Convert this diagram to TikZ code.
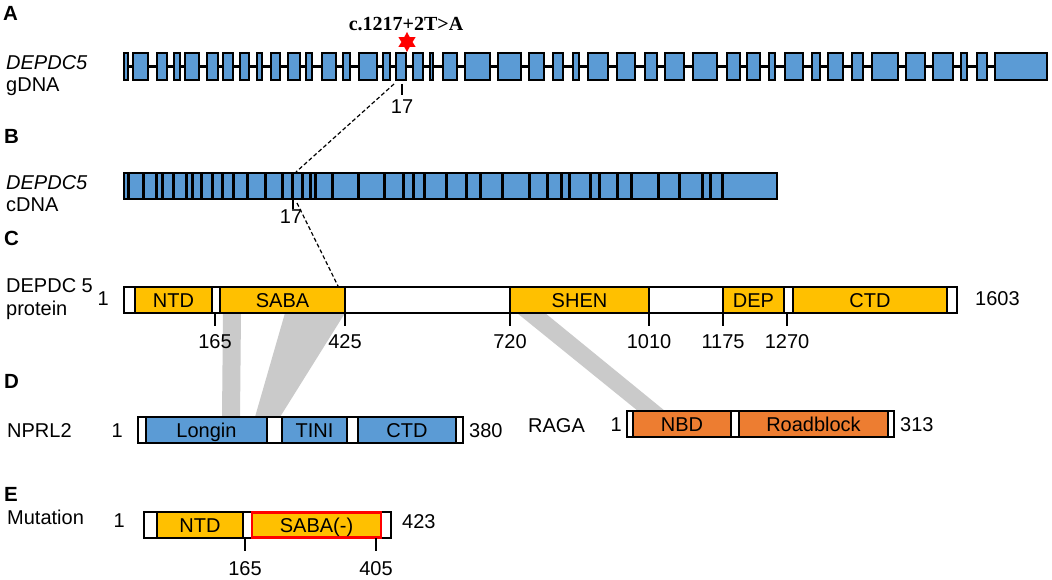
\documentclass[tikz,border=0pt]{standalone}
\usepackage{fontspec}
\setmainfont{Liberation Sans}
\newfontfamily\mutserif{Liberation Serif}
\usetikzlibrary{shapes.geometric}
\definecolor{exonblue}{HTML}{5B9BD5}
\definecolor{domyellow}{HTML}{FFC000}
\definecolor{domorange}{HTML}{ED7D31}
\definecolor{bandgray}{HTML}{CACACA}
\newcommand\domainbox[7]{\node[dombox, fill=#6, minimum width={#3-#2}, minimum height=#5, anchor=west] (#1) at (#2,#4) {#7};}
\begin{document}
\begin{tikzpicture}[x=1pt,y=-1pt,
  lbl/.style={font=\fontsize{20}{22}\selectfont, inner sep=0pt, text height=15pt, text depth=1pt},
  panel/.style={lbl, font=\fontsize{20.5}{22}\selectfont\bfseries},
  exon/.style={draw=black, line width=1.4pt, fill=exonblue, minimum height=27pt, inner sep=0pt, outer sep=0pt},
  dombox/.style={draw=black, line width=1.3pt, inner sep=0pt, outer sep=0pt, font=\fontsize{20}{22}\selectfont, text height=15pt, text depth=1pt},
  intron/.style={line width=3pt},
  cdnaline/.style={line width=3pt},
  tickline/.style={line width=2.4pt},
  link/.style={line width=1.2pt, dash pattern=on 4pt off 2.5pt},
  band/.style={fill=bandgray, draw=none}]
\useasboundingbox[fill=white] (0,0) rectangle (1052,580);

% ---------- gray bands (behind) ----------
\fill[band] (223,313) -- (241,313) -- (240,417) -- (222,417) -- cycle;
\fill[band] (285,313) -- (345,313) -- (280,417) -- (255,417) -- cycle;
\fill[band] (517,313) -- (545,313) -- (665,411) -- (638,411) -- cycle;

% ---------- panel letters ----------
\node[panel, anchor=west] (pA) at (3,14) {A};
\node[panel, anchor=west] (pB) at (4,137) {B};
\node[panel, anchor=west] (pC) at (4,238) {C};
\node[panel, anchor=west] (pD) at (4,381) {D};
\node[panel, anchor=west] (pE) at (4,494) {E};

% ---------- A: gDNA ----------
\node[lbl, anchor=west, font=\fontsize{20}{22}\selectfont\itshape] (gname) at (6,63) {DEPDC5};
\node[lbl, anchor=west] (gtype) at (6,85) {gDNA};
\draw[intron] (128,66.5) -- (995,66.5);
\foreach \a/\b [count=\i] in {124/128,133/148,157/167,174/180,185/199,207/218,223/233,240/249,257/262,271/280,288/300,306/312,322/336,343/350,359/377,383/390,396/406,413/423,430/433,443/457,465/490,498/521,529/544,553/563,573/579,588/608,617/635,645/657,665/684,693/717,727/740,747/760,769/775,785/803,812/820,828/843,852/863,872/898,906/925,933/953,961/967,977/987,995/1047}
  \node[exon, minimum width={\b-\a}, anchor=west] (ex\i) at (\a,66.5) {};
\node[star, star points=6, star point ratio=1.8, fill=red, draw=none, minimum size=20pt, inner sep=0pt] (mstar) at (407,42) {};
\node[inner sep=0pt, font=\fontsize{20}{22}\selectfont\mutserif\bfseries] (mtext) at (406,24) {c.1217+2T>A};
\coordinate (gt1) at (402,84);
\coordinate (gt2) at (402,95);
\draw[tickline] (gt1) -- (gt2);
\node[lbl] (g17) at (402,107) {17};

% ---------- B: cDNA ----------
\node[lbl, anchor=west, font=\fontsize{20}{22}\selectfont\itshape] (cname) at (6,183) {DEPDC5};
\node[lbl, anchor=west] (ctype) at (6,205) {cDNA};
\node[exon, minimum width=653pt, minimum height=26pt, anchor=west] (cdna) at (124,186) {};
\foreach \x in {128,143,156,162,173,186,192,201,212,222,233,247,265,282,292,302,310,315,332,358,384,403,413,424,446,466,480,502,529,547,561,569,590,599,617,631,658,679,702,710,722}
  \draw[cdnaline] (\x,173.5) -- (\x,198.5);
\coordinate (ct1) at (293,200);
\coordinate (ct2) at (293,209);
\draw[tickline] (ct1) -- (ct2);
\node[lbl] (c17) at (291,217) {17};

% dashed links
\coordinate (l1a) at (394,84);
\coordinate (l1b) at (296,172);
\draw[link] (l1a) -- (l1b);
\coordinate (l2a) at (297,203);
\coordinate (l2b) at (338,286);
\draw[link] (l2a) -- (l2b);

% ---------- C: protein ----------
\node[lbl, anchor=west] (pname) at (6,285) {DEPDC 5};
\node[lbl, anchor=west] (ptype) at (6,308) {protein};
\node[lbl, anchor=east] (p1) at (109,298) {1};
\node[lbl, anchor=west] (p1603) at (975,298) {1603};
\domainbox{prot}{124}{957}{300}{26}{white}{}
\domainbox{pNTD}{135}{212}{300}{26}{domyellow}{NTD}
\domainbox{pSABA}{220}{345}{300}{26}{domyellow}{SABA}
\domainbox{pSHEN}{510}{649}{300}{26}{domyellow}{SHEN}
\domainbox{pDEP}{723}{784}{300}{26}{domyellow}{DEP}
\domainbox{pCTD}{793}{947}{300}{26}{domyellow}{CTD}
\foreach \x/\t in {215/165,345/425,510/720,649/1010,723/1175,787/1270}{
  \draw[tickline] (\x,313) -- (\x,326);
  \node[lbl] (pt\t) at (\x,341) {\t};
}

% ---------- D: NPRL2 and RAGA ----------
\node[lbl, anchor=west] (nname) at (7,430) {NPRL2};
\node[lbl, anchor=east] (n1) at (123,430) {1};
\domainbox{nprl}{138}{463}{430}{26}{white}{}
\domainbox{nLongin}{146}{267}{430}{26}{exonblue}{Longin}
\domainbox{nTINI}{282}{347}{430}{26}{exonblue}{TINI}
\domainbox{nCTD}{358}{456}{430}{26}{exonblue}{CTD}
\node[lbl, anchor=west] (n380) at (469,430) {380};

\node[lbl, anchor=west] (rname) at (528,425) {RAGA};
\node[lbl, anchor=east] (r1) at (622,424) {1};
\domainbox{raga}{627}{894}{424}{26}{white}{}
\domainbox{rNBD}{633}{731}{424}{26}{domorange}{NBD}
\domainbox{rRoad}{739}{888}{424}{26}{domorange}{Roadblock}
\node[lbl, anchor=west] (r313) at (900,424) {313};

% ---------- E: mutation ----------
\node[lbl, anchor=west] (mname) at (7,517) {Mutation};
\node[lbl, anchor=east] (m1) at (125,520) {1};
\domainbox{mut}{144}{391}{525}{26}{white}{}
\domainbox{mNTD}{157}{243}{525}{26}{domyellow}{NTD}
\node[dombox, fill=domyellow, draw=red, line width=2.4pt, minimum width=129pt, minimum height=25pt, anchor=west] (mSABA) at (252,525) {SABA(-)};
\node[lbl, anchor=west] (m423) at (402,521) {423};
\foreach \x/\t in {245/165,376/405}{
  \draw[tickline] (\x,538) -- (\x,551);
  \node[lbl] (mt\t) at (\x,568) {\t};
}
\end{tikzpicture}
\end{document}
